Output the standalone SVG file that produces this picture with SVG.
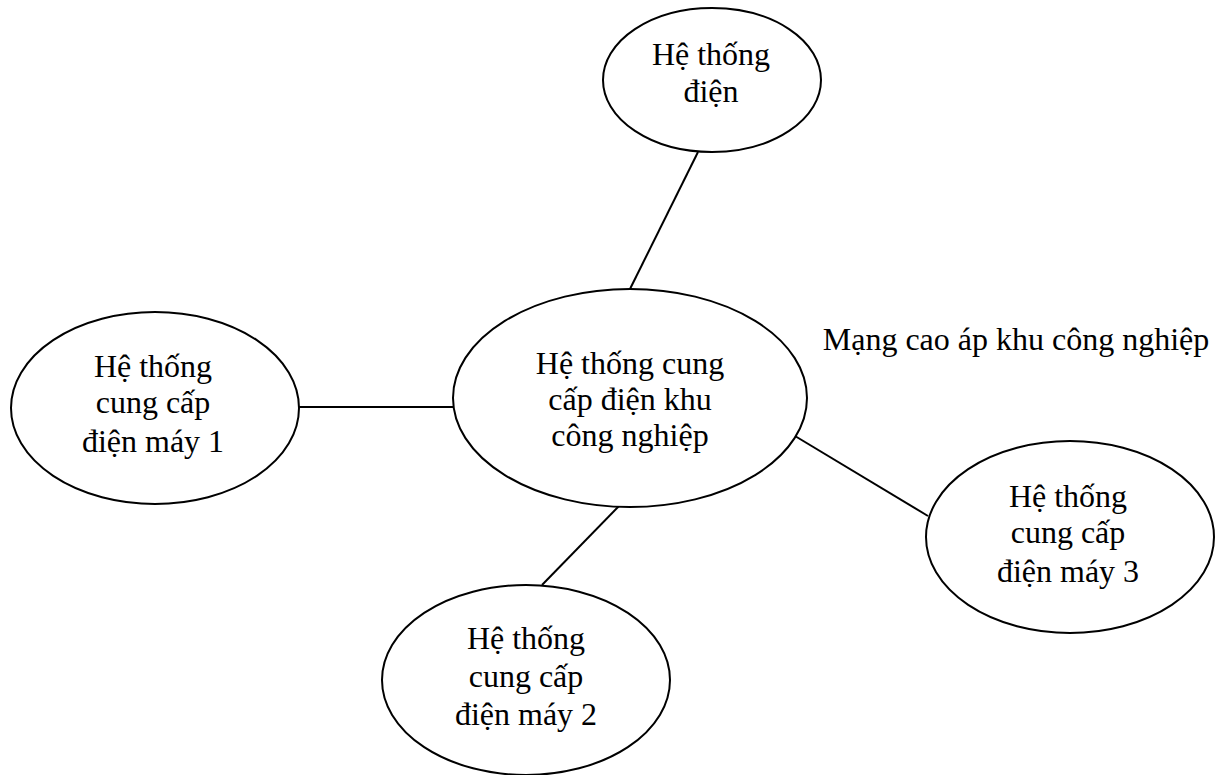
<svg xmlns="http://www.w3.org/2000/svg" width="1221" height="775" viewBox="0 0 1221 775">
<style>
.n{fill:#fff;stroke:#000;stroke-width:2}
.c line{stroke:#000;stroke-width:2}
text{font-family:"Liberation Serif","Times New Roman",serif;font-size:32px;fill:#000;text-anchor:middle}
</style>
<rect width="1221" height="775" fill="#fff"/>
<g class="c" id="connectors">
<line x1="698" y1="152" x2="630" y2="289"/>
<line x1="299" y1="407" x2="454" y2="407"/>
<line x1="795" y1="436" x2="928" y2="516"/>
<line x1="619" y1="506" x2="542" y2="585"/>
</g>
<g id="n-top">
<ellipse class="n" cx="712" cy="80" rx="109" ry="72"/>
<text x="711" y="65">Hệ thống</text>
<text x="711" y="102">điện</text>
</g>
<g id="n-center">
<ellipse class="n" cx="630" cy="398" rx="177" ry="109"/>
<text x="630" y="374">Hệ thống cung</text>
<text x="630" y="410">cấp điện khu</text>
<text x="630" y="446">công nghiệp</text>
</g>
<g id="n-left">
<ellipse class="n" cx="155" cy="408" rx="144" ry="96"/>
<text x="153" y="377">Hệ thống</text>
<text x="153" y="413">cung cấp</text>
<text x="153" y="452">điện máy 1</text>
</g>
<g id="n-right">
<ellipse class="n" cx="1070" cy="537" rx="144" ry="96"/>
<text x="1068" y="507">Hệ thống</text>
<text x="1068" y="543">cung cấp</text>
<text x="1068" y="582">điện máy 3</text>
</g>
<g id="n-bottom">
<ellipse class="n" cx="526" cy="680" rx="144" ry="95"/>
<text x="526" y="649">Hệ thống</text>
<text x="526" y="687">cung cấp</text>
<text x="526" y="725">điện máy 2</text>
</g>
<g id="label">
<text x="1016" y="350">Mạng cao áp khu công nghiệp</text>
</g>
</svg>
